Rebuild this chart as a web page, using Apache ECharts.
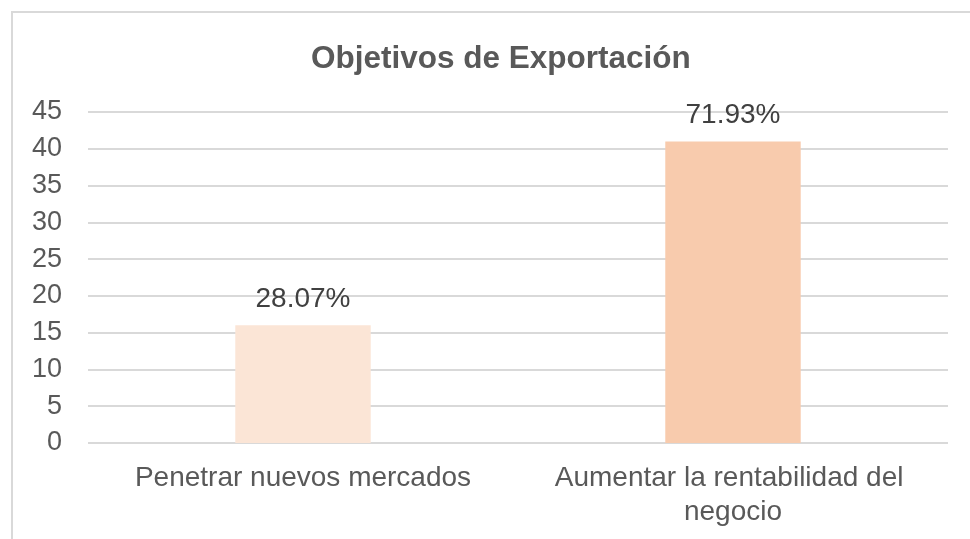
<!DOCTYPE html>
<html>
<head>
<meta charset="utf-8">
<script src="https://cdn.jsdelivr.net/npm/echarts@6/dist/echarts.min.js"></script>
<style>
  html, body { margin: 0; padding: 0; background: #fff; }
  #frame {
    position: absolute; left: 11px; top: 11px;
    width: 1000px; height: 600px;
    border: 2px solid #d9d9d9;
  }
  #chart { position: absolute; left: 0; top: 0; width: 970px; height: 539px; }
</style>
</head>
<body>
<div id="frame"></div>
<div id="chart"></div>
<script>
  // datos
  const categorias = ['Penetrar nuevos mercados', 'Aumentar la rentabilidad del negocio'];
  const valores = [16, 41];
  const porcentajes = ['28.07%', '71.93%'];
  const colores = ['#FBE5D6', '#F8CBAD'];

  const chart = echarts.init(document.getElementById('chart'));

  const option = {
    animation: false,
    textStyle: { fontFamily: 'Liberation Sans, Arial, sans-serif' },
    title: {
      text: 'Objetivos de Exportación',
      left: 306,
      top: 38,
      textStyle: { fontSize: 31.5, fontWeight: 'bold', color: '#595959' }
    },
    grid: { left: 88, right: 22, top: 112, bottom: 96 },
    xAxis: {
      type: 'category',
      data: categorias,
      axisLine: { show: false },
      axisTick: { show: false },
      axisLabel: {
        color: '#595959',
        fontSize: 28,
        margin: 18,
        lineHeight: 34,
        width: 400,
        overflow: 'break',
        interval: 0
      }
    },
    yAxis: {
      type: 'value',
      min: 0,
      max: 45,
      interval: 5,
      axisLine: { show: false },
      axisTick: { show: false },
      axisLabel: { color: '#595959', fontSize: 27, margin: 26 },
      splitLine: { lineStyle: { color: '#d9d9d9', width: 2 } }
    },
    series: [{
      type: 'bar',
      barWidth: '31.5%',
      data: valores.map((v, i) => ({ value: v, itemStyle: { color: colores[i] } })),
      label: {
        show: true,
        position: 'top',
        distance: 12,
        fontSize: 28,
        color: '#404040',
        formatter: p => porcentajes[p.dataIndex]
      }
    }]
  };

  chart.setOption(option);
</script>
</body>
</html>
